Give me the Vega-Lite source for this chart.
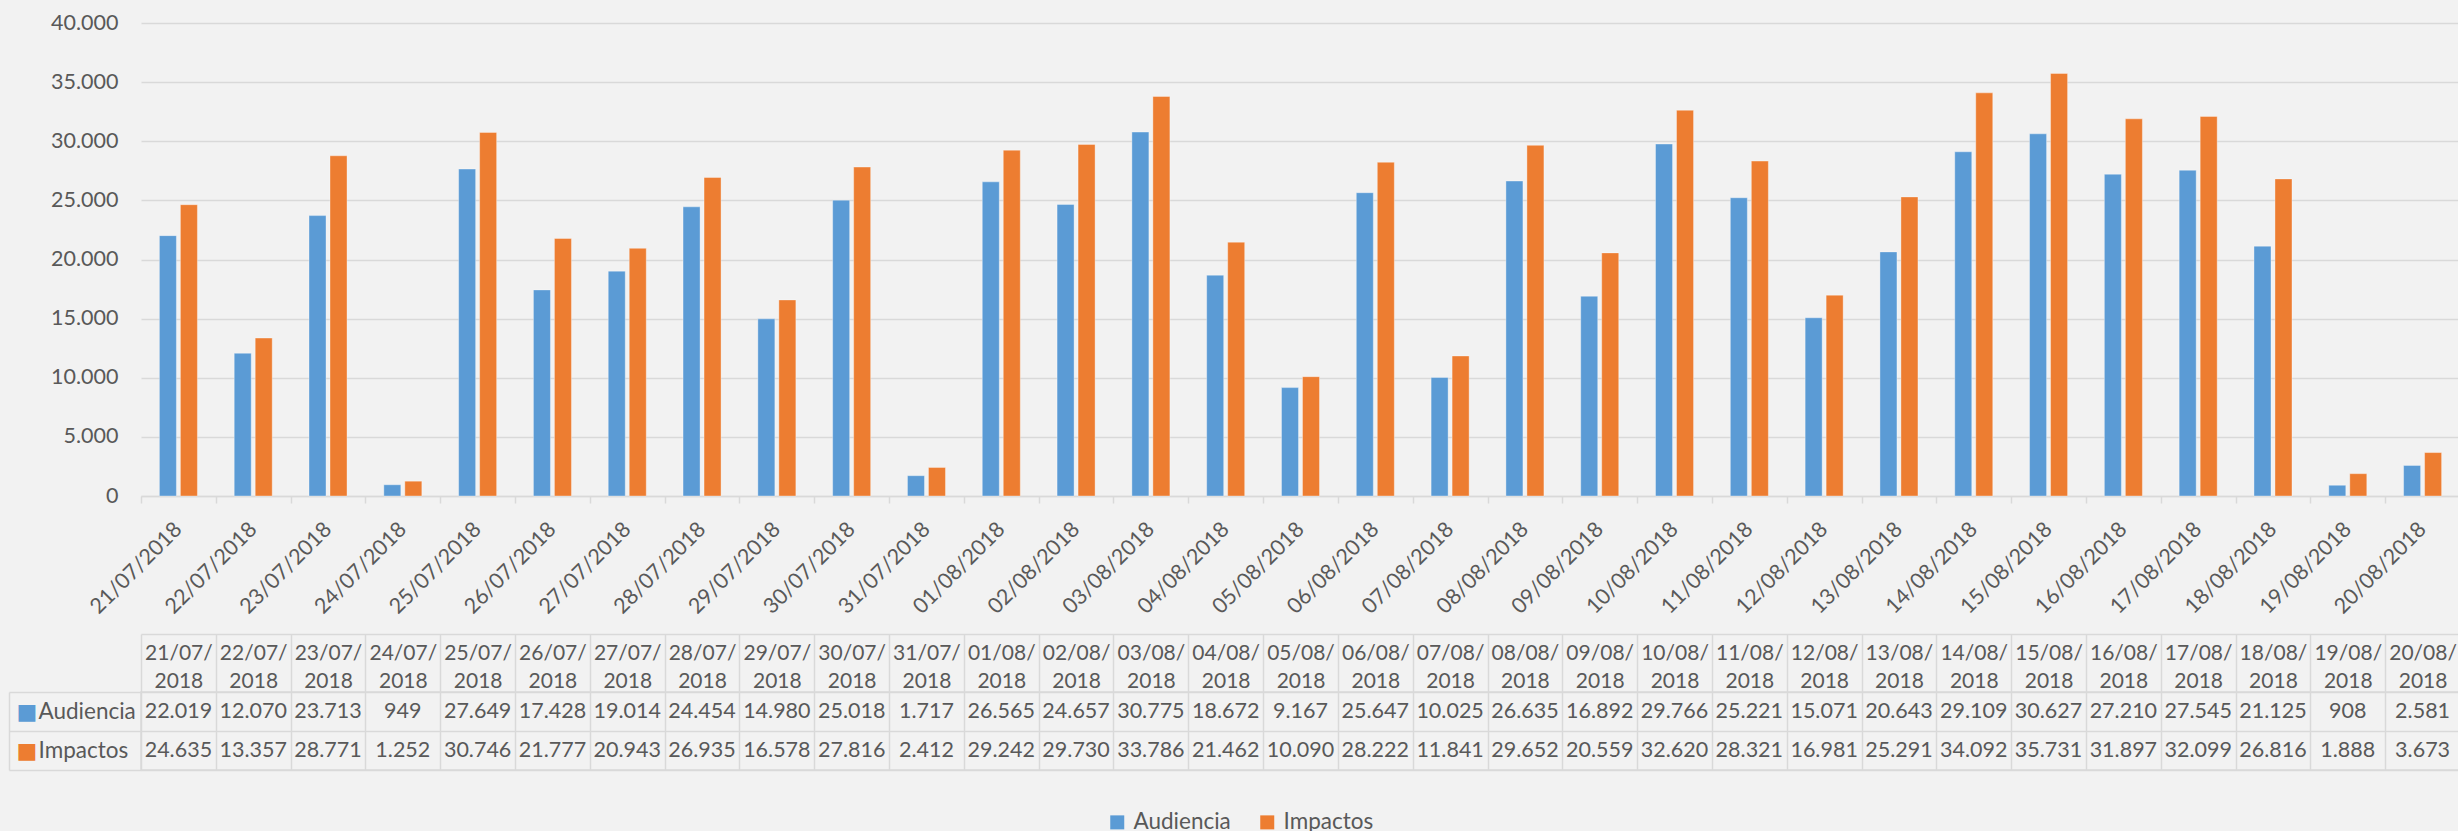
{
  "$schema": "https://vega.github.io/schema/vega-lite/v6.json",
  "background": "#f2f2f2",
  "padding": {"left": 7, "top": 12, "right": 0, "bottom": 0},
  "datasets": {
    "d": [
      {"date": "21/07/2018", "series": "Audiencia", "value": 22019},
      {"date": "21/07/2018", "series": "Impactos", "value": 24635},
      {"date": "22/07/2018", "series": "Audiencia", "value": 12070},
      {"date": "22/07/2018", "series": "Impactos", "value": 13357},
      {"date": "23/07/2018", "series": "Audiencia", "value": 23713},
      {"date": "23/07/2018", "series": "Impactos", "value": 28771},
      {"date": "24/07/2018", "series": "Audiencia", "value": 949},
      {"date": "24/07/2018", "series": "Impactos", "value": 1252},
      {"date": "25/07/2018", "series": "Audiencia", "value": 27649},
      {"date": "25/07/2018", "series": "Impactos", "value": 30746},
      {"date": "26/07/2018", "series": "Audiencia", "value": 17428},
      {"date": "26/07/2018", "series": "Impactos", "value": 21777},
      {"date": "27/07/2018", "series": "Audiencia", "value": 19014},
      {"date": "27/07/2018", "series": "Impactos", "value": 20943},
      {"date": "28/07/2018", "series": "Audiencia", "value": 24454},
      {"date": "28/07/2018", "series": "Impactos", "value": 26935},
      {"date": "29/07/2018", "series": "Audiencia", "value": 14980},
      {"date": "29/07/2018", "series": "Impactos", "value": 16578},
      {"date": "30/07/2018", "series": "Audiencia", "value": 25018},
      {"date": "30/07/2018", "series": "Impactos", "value": 27816},
      {"date": "31/07/2018", "series": "Audiencia", "value": 1717},
      {"date": "31/07/2018", "series": "Impactos", "value": 2412},
      {"date": "01/08/2018", "series": "Audiencia", "value": 26565},
      {"date": "01/08/2018", "series": "Impactos", "value": 29242},
      {"date": "02/08/2018", "series": "Audiencia", "value": 24657},
      {"date": "02/08/2018", "series": "Impactos", "value": 29730},
      {"date": "03/08/2018", "series": "Audiencia", "value": 30775},
      {"date": "03/08/2018", "series": "Impactos", "value": 33786},
      {"date": "04/08/2018", "series": "Audiencia", "value": 18672},
      {"date": "04/08/2018", "series": "Impactos", "value": 21462},
      {"date": "05/08/2018", "series": "Audiencia", "value": 9167},
      {"date": "05/08/2018", "series": "Impactos", "value": 10090},
      {"date": "06/08/2018", "series": "Audiencia", "value": 25647},
      {"date": "06/08/2018", "series": "Impactos", "value": 28222},
      {"date": "07/08/2018", "series": "Audiencia", "value": 10025},
      {"date": "07/08/2018", "series": "Impactos", "value": 11841},
      {"date": "08/08/2018", "series": "Audiencia", "value": 26635},
      {"date": "08/08/2018", "series": "Impactos", "value": 29652},
      {"date": "09/08/2018", "series": "Audiencia", "value": 16892},
      {"date": "09/08/2018", "series": "Impactos", "value": 20559},
      {"date": "10/08/2018", "series": "Audiencia", "value": 29766},
      {"date": "10/08/2018", "series": "Impactos", "value": 32620},
      {"date": "11/08/2018", "series": "Audiencia", "value": 25221},
      {"date": "11/08/2018", "series": "Impactos", "value": 28321},
      {"date": "12/08/2018", "series": "Audiencia", "value": 15071},
      {"date": "12/08/2018", "series": "Impactos", "value": 16981},
      {"date": "13/08/2018", "series": "Audiencia", "value": 20643},
      {"date": "13/08/2018", "series": "Impactos", "value": 25291},
      {"date": "14/08/2018", "series": "Audiencia", "value": 29109},
      {"date": "14/08/2018", "series": "Impactos", "value": 34092},
      {"date": "15/08/2018", "series": "Audiencia", "value": 30627},
      {"date": "15/08/2018", "series": "Impactos", "value": 35731},
      {"date": "16/08/2018", "series": "Audiencia", "value": 27210},
      {"date": "16/08/2018", "series": "Impactos", "value": 31897},
      {"date": "17/08/2018", "series": "Audiencia", "value": 27545},
      {"date": "17/08/2018", "series": "Impactos", "value": 32099},
      {"date": "18/08/2018", "series": "Audiencia", "value": 21125},
      {"date": "18/08/2018", "series": "Impactos", "value": 26816},
      {"date": "19/08/2018", "series": "Audiencia", "value": 908},
      {"date": "19/08/2018", "series": "Impactos", "value": 1888},
      {"date": "20/08/2018", "series": "Audiencia", "value": 2581},
      {"date": "20/08/2018", "series": "Impactos", "value": 3673}
    ]
  },
  "data": {"name": "d"},
  "bounds": "flush",
  "spacing": 196,
  "vconcat": [
    {
      "width": 2319,
      "height": 473,
      "view": {"stroke": null},
      "mark": {"type": "bar", "stroke": "#ffffff", "strokeOpacity": 0.35, "strokeWidth": 1},
      "encoding": {
        "x": {
          "field": "date", "type": "nominal", "sort": null,
          "scale": {"paddingInner": 0, "paddingOuter": 0},
          "axis": {"labelAngle": -45, "labelAlign": "right", "labelBaseline": "middle", "tickBand": "extent", "tickSize": 7, "labelPadding": 23, "title": null}
        },
        "xOffset": {
          "field": "series", "type": "nominal", "sort": null,
          "scale": {"paddingInner": 0.19, "paddingOuter": 0.876}
        },
        "y": {
          "field": "value", "type": "quantitative",
          "scale": {"domain": [0, 40000], "nice": false},
          "axis": {"values": [0, 5000, 10000, 15000, 20000, 25000, 30000, 35000, 40000], "format": ",.0f", "domain": false, "ticks": false, "labelPadding": 23, "title": null, "grid": true}
        },
        "color": {
          "field": "series", "type": "nominal", "sort": null,
          "scale": {"domain": ["Audiencia", "Impactos"], "range": ["#5b9bd5", "#ed7d31"]},
          "legend": {"orient": "none", "legendX": 965, "legendY": 788, "direction": "horizontal", "title": null, "symbolType": "square", "symbolSize": 196, "symbolStrokeWidth": 0, "labelFontSize": 22.5, "labelFont": "Lato", "labelColor": "#595959", "labelOffset": 5, "columnPadding": 25, "padding": 0}
        }
      }
    },
    {
      "width": 2319,
      "height": 78,
      "view": {"stroke": "#d9d9d9", "strokeWidth": 1.5},
      "layer": [
        {
          "mark": {"type": "text", "font": "Lato", "fontSize": 21.5, "color": "#595959"},
          "encoding": {
            "x": {
              "field": "date", "type": "nominal", "sort": null,
              "scale": {"paddingInner": 0, "paddingOuter": 0},
              "axis": {"orient": "top", "offset": 58, "tickBand": "extent", "tickSize": -58, "labelPadding": 39, "labelBaseline": "middle", "labelAngle": 0, "labelAlign": "center", "labelFontSize": 21, "labelLineHeight": 28, "labelExpr": "[slice(datum.label, 0, 6), slice(datum.label, 6)]", "grid": true, "domain": true, "title": null}
            },
            "y": {
              "field": "series", "type": "nominal", "sort": null,
              "scale": {"paddingInner": 0, "paddingOuter": 0},
              "axis": {"orient": "left", "offset": 132, "tickBand": "extent", "tickSize": -132, "labelAlign": "left", "labelPadding": 103, "labelFontSize": 22.5, "grid": true, "domain": true, "title": null}
            },
            "text": {"field": "value", "type": "quantitative", "format": ",.0f"}
          }
        },
        {
          "mark": {"type": "text", "opacity": 0},
          "encoding": {
            "y": {
              "field": "series", "type": "nominal", "sort": null,
              "axis": {"orient": "left", "offset": 132, "domain": false, "ticks": false, "grid": false, "labelExpr": "'■'", "labelColor": {"condition": {"test": "datum.value == 'Audiencia'", "value": "#5b9bd5"}, "value": "#ed7d31"}, "labelFont": "DejaVu Sans", "labelFontSize": 22, "labelAlign": "left", "labelPadding": -7, "title": null}
            },
            "text": {"value": ""}
          }
        }
      ],
      "resolve": {"axis": {"y": "independent"}}
    }
  ],
  "config": {
    "locale": {"number": {"decimal": ",", "thousands": ".", "grouping": [3], "currency": ["", " €"]}},
    "font": "Lato",
    "axis": {"labelFont": "Lato", "labelFontSize": 21.5, "labelColor": "#595959", "domainColor": "#d9d9d9", "domainWidth": 1.5, "tickColor": "#d9d9d9", "tickWidth": 1.5, "gridColor": "#d9d9d9", "gridWidth": 1.5, "title": null, "labelOverlap": false}
  }
}
